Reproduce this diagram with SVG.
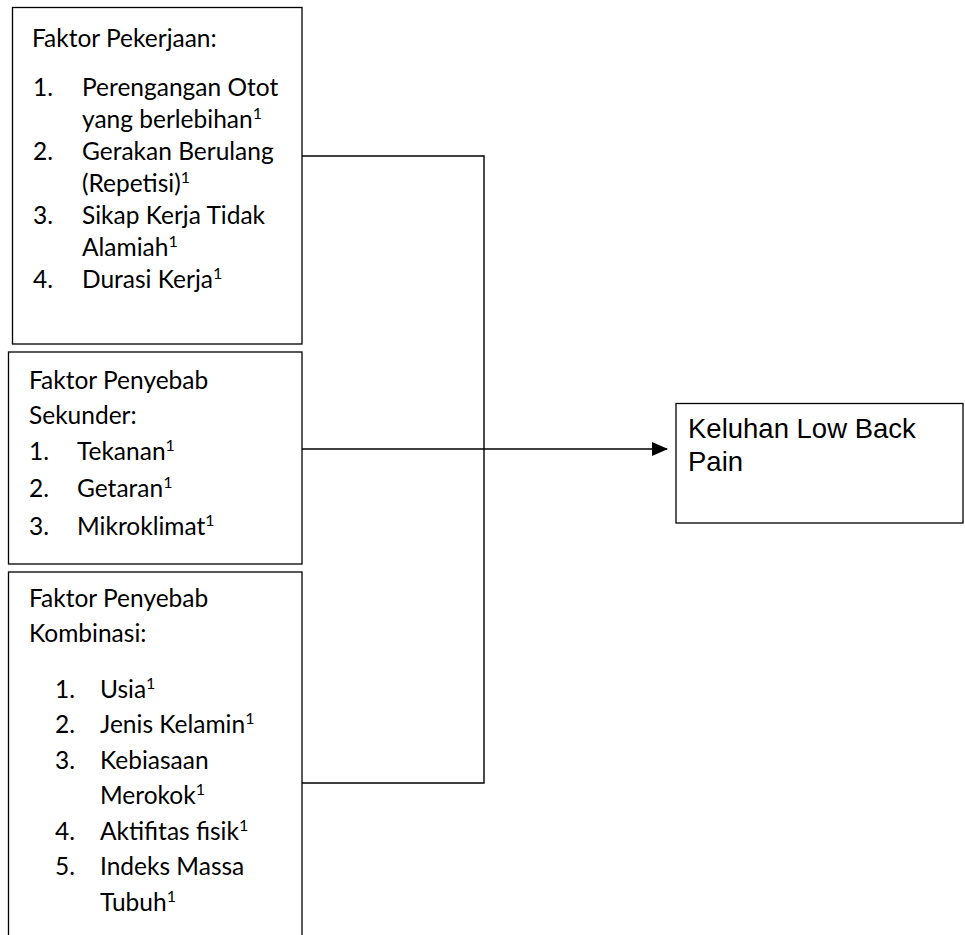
<svg xmlns="http://www.w3.org/2000/svg" width="965" height="935" viewBox="0 0 965 935">
<style>
.box{fill:#fff;stroke:#000;stroke-width:1.3}
.t{font-family:Lato,"Liberation Sans",sans-serif;font-size:24.5px;fill:#000}
.s{font-size:16px}
.a{font-family:"Liberation Sans",Arial,sans-serif;font-size:27.5px;fill:#000}
.c{fill:none;stroke:#000;stroke-width:1.4}
</style>
<defs>
<marker id="ah" markerWidth="16" markerHeight="14" refX="15" refY="7" orient="auto" markerUnits="userSpaceOnUse">
<path d="M0,0 L16,7 L0,14 Z" fill="#000"/>
</marker>
</defs>
<rect width="965" height="935" fill="#fff"/>
<g id="connectors">
<path class="c" d="M302,156 H484 V783 H302"/>
<path class="c" d="M302,449 H667" marker-end="url(#ah)"/>
</g>
<g id="faktor-pekerjaan">
<rect class="box" x="12.5" y="7.5" width="289.5" height="336.5"/>
<text class="t" x="32" y="47">Faktor Pekerjaan:</text>
<text class="t" x="33" y="96">1.</text><text class="t" x="82" y="96">Perengangan Otot</text>
<text class="t" x="82" y="128">yang berlebihan<tspan class="s" dy="-9">1</tspan></text>
<text class="t" x="33" y="160">2.</text><text class="t" x="82" y="160">Gerakan Berulang</text>
<text class="t" x="82" y="192">(Repetisi)<tspan class="s" dy="-9">1</tspan></text>
<text class="t" x="33" y="224">3.</text><text class="t" x="82" y="224">Sikap Kerja Tidak</text>
<text class="t" x="82" y="256">Alamiah<tspan class="s" dy="-9">1</tspan></text>
<text class="t" x="33" y="288">4.</text><text class="t" x="82" y="288">Durasi Kerja<tspan class="s" dy="-9">1</tspan></text>
</g>
<g id="faktor-sekunder">
<rect class="box" x="8.5" y="352" width="293.5" height="212"/>
<text class="t" x="29" y="389">Faktor Penyebab</text>
<text class="t" x="29" y="424">Sekunder:</text>
<text class="t" x="29" y="460">1.</text><text class="t" x="77" y="460">Tekanan<tspan class="s" dy="-9">1</tspan></text>
<text class="t" x="29" y="497">2.</text><text class="t" x="77" y="497">Getaran<tspan class="s" dy="-9">1</tspan></text>
<text class="t" x="29" y="535">3.</text><text class="t" x="77" y="535">Mikroklimat<tspan class="s" dy="-9">1</tspan></text>
</g>
<g id="faktor-kombinasi">
<rect class="box" x="8.5" y="572" width="293.5" height="380"/>
<text class="t" x="29" y="607">Faktor Penyebab</text>
<text class="t" x="29" y="642">Kombinasi:</text>
<text class="t" x="55" y="698">1.</text><text class="t" x="100" y="698">Usia<tspan class="s" dy="-9">1</tspan></text>
<text class="t" x="55" y="733">2.</text><text class="t" x="100" y="733">Jenis Kelamin<tspan class="s" dy="-9">1</tspan></text>
<text class="t" x="55" y="769">3.</text><text class="t" x="100" y="769">Kebiasaan</text>
<text class="t" x="100" y="804">Merokok<tspan class="s" dy="-9">1</tspan></text>
<text class="t" x="55" y="840">4.</text><text class="t" x="100" y="840">Aktifitas fisik<tspan class="s" dy="-9">1</tspan></text>
<text class="t" x="55" y="875">5.</text><text class="t" x="100" y="875">Indeks Massa</text>
<text class="t" x="100" y="911">Tubuh<tspan class="s" dy="-9">1</tspan></text>
</g>
<g id="keluhan">
<rect class="box" x="676" y="403.5" width="287" height="119.5"/>
<text class="a" x="688" y="438">Keluhan Low Back</text>
<text class="a" x="688" y="471">Pain</text>
</g>
</svg>
